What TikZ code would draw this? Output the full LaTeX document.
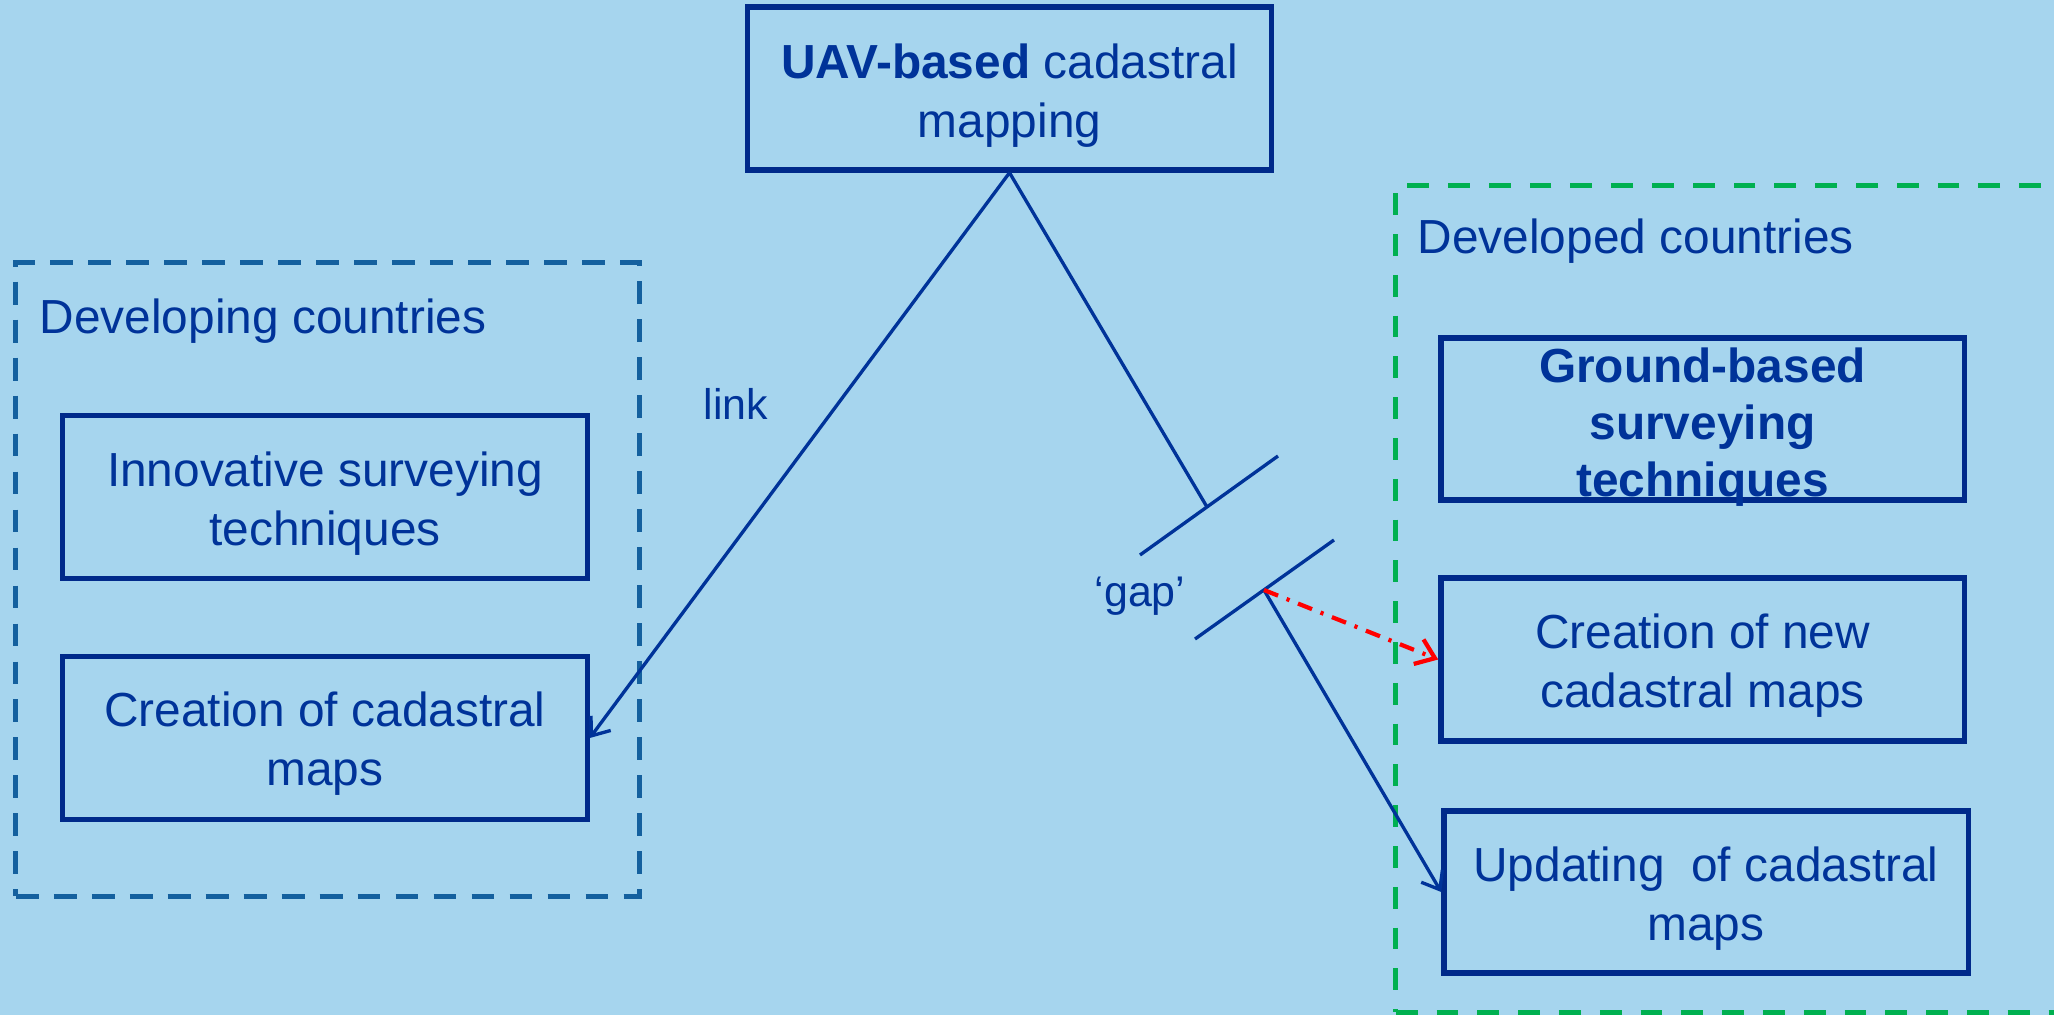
\documentclass[tikz,border=0pt]{standalone}
\usepackage{fontspec}
\setmainfont{Liberation Sans}
\usetikzlibrary{arrows.meta}
\definecolor{bg}{RGB}{166,213,238}
\definecolor{txt}{RGB}{0,51,153}
\definecolor{navy}{RGB}{0,42,138}
\definecolor{steel}{RGB}{20,96,158}
\definecolor{grn}{RGB}{0,176,80}
\definecolor{redc}{RGB}{255,0,0}
\begin{document}
\begin{tikzpicture}[x=0.01cm,y=-0.01cm,
  box/.style={draw=navy,line width=1.5pt,minimum width=5.24cm,minimum height=1.63cm,inner sep=0pt},
  btxt/.style={inner sep=0pt,text=txt,align=center,font=\fontsize{13.6}{16.8}\selectfont},
  boldtxt/.style={inner sep=0pt,text=txt,align=center,font=\fontsize{13.6}{16.2}\selectfont\bfseries},
  lbl/.style={inner sep=0pt,text=txt,font=\fontsize{13.6}{16.8}\selectfont},
  small/.style={inner sep=0pt,text=txt,font=\fontsize{12.2}{14.6}\selectfont},
  frameL/.style={draw=steel,line width=1.45pt,dash pattern=on 6.5pt off 4.3pt,inner sep=0pt},
  frameR/.style={draw=grn,line width=1.45pt,dash pattern=on 6.2pt off 5.4pt,inner sep=0pt},
  conn/.style={draw=txt,line width=0.95pt},
  tip/.style={-{Straight Barb[length=4.5pt,width=7pt,line width=0.95pt]}}
]
\useasboundingbox (0,0) rectangle (2054,1015);
\fill[bg] (0,0) rectangle (2054,1015);
\clip (0,0) rectangle (2054,1015);

% frames
\node[frameL,minimum width=6.23cm,minimum height=6.33cm] (devf) at (327.5,579.5) {};
\node[frameR,minimum width=6.84cm,minimum height=8.26cm] (dedf) at (1738,599) {};
\node[lbl,anchor=base west] (devlab) at (39,333) {Developing countries};
\node[lbl,anchor=base west] (dedlab) at (1417,253) {Developed countries};

% boxes
\node[box,minimum width=5.23cm] (top) at (1009.5,88.5) {};
\node[btxt] (topt) at ([yshift=-0.07cm]top.center) {\textbf{UAV-based} cadastral\\mapping};
\node[box] (innov) at (325,497) {};
\node[btxt] (innovt) at ([yshift=-0.065cm]innov.center) {Innovative surveying\\techniques};
\node[box] (crea) at (325,738) {};
\node[btxt] (creat) at ([yshift=-0.055cm]crea.center) {Creation of cadastral\\maps};
\node[box,minimum width=5.23cm,minimum height=1.62cm] (gb) at (1702.5,419) {};
\node[boldtxt] (gbt) at ([yshift=-0.08cm]gb.center) {Ground-based\\surveying\\techniques};
\node[box,minimum width=5.23cm] (cnew) at (1702.5,659.5) {};
\node[btxt] (cnewt) at ([yshift=-0.065cm]cnew.center) {Creation of new\\cadastral maps};
\node[box,minimum height=1.62cm] (upd) at (1706,892) {};
\node[btxt] (updt) at ([yshift=-0.07cm]upd.center) {Updating\ \ of cadastral\\maps};

% gap bars
\coordinate (b1a) at (1140,555);
\coordinate (b1b) at (1278,456);
\coordinate (b1m) at (1207,507);
\coordinate (b2a) at (1195,639);
\coordinate (b2b) at (1334,540);
\coordinate (b2m) at (1264,590);
\draw[conn] (b1a) -- (b1b);
\draw[conn] (b2a) -- (b2b);

% connectors
\draw[conn,tip] (top.south) -- (crea.east);
\draw[conn] (top.south) -- (b1m);
\draw[conn,tip] (b2m) -- (upd.west);
\draw[draw=redc,line width=1.2pt,dash pattern=on 4.3pt off 2.6pt on 0.9pt off 2.6pt,
  -{Straight Barb[length=5pt,width=7.5pt,line width=1.2pt]}] (b2m) -- (cnew.west);

% labels
\node[small] (linklab) at (736,404) {link};
\node[small] (gaplab) at (1140,596) {‘gap’};
\end{tikzpicture}
\end{document}
